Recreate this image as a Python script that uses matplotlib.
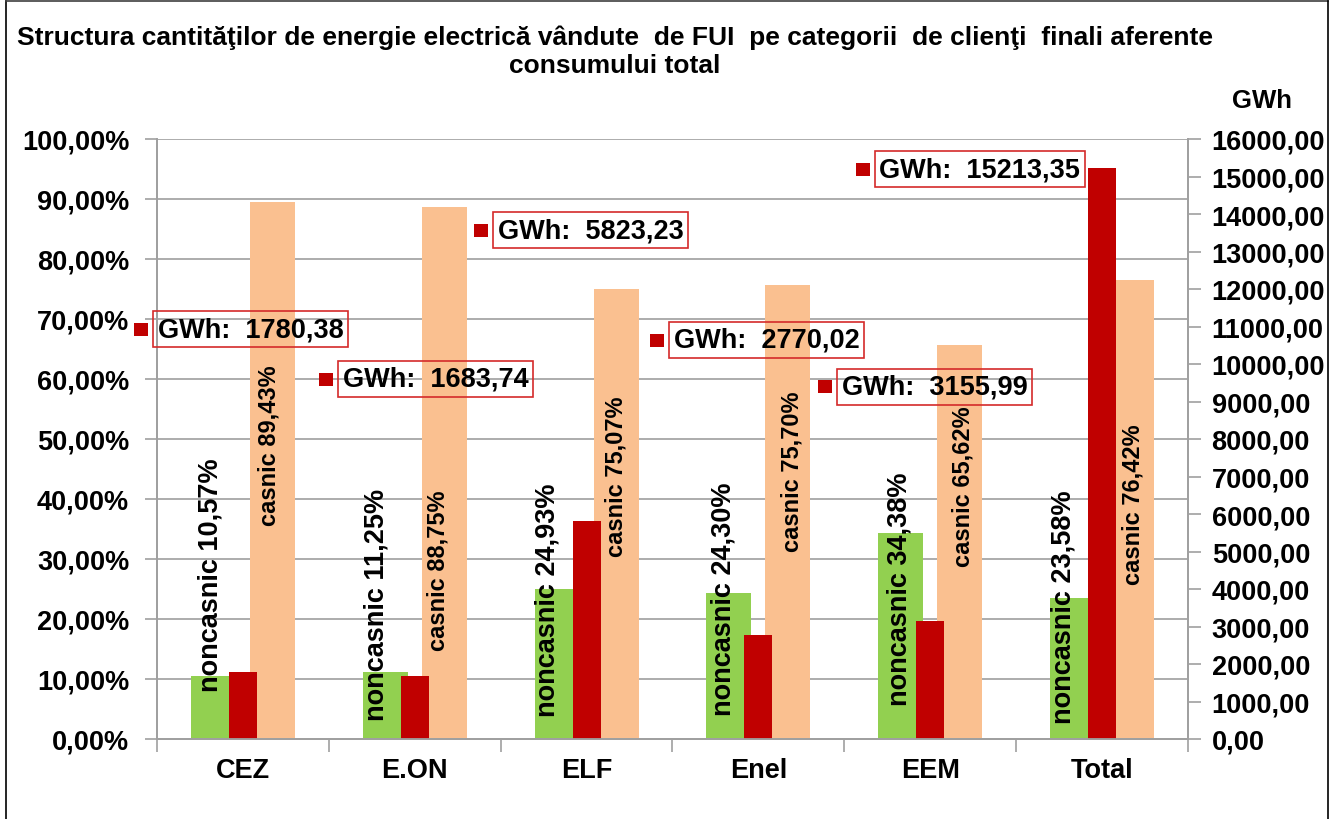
import matplotlib
matplotlib.use('Agg')
import matplotlib.pyplot as plt
import numpy as np
from matplotlib.patches import Rectangle
from matplotlib.lines import Line2D
from matplotlib.transforms import IdentityTransform
from matplotlib.ticker import FuncFormatter, MultipleLocator, FixedLocator

# ---- data ----
categories = ['CEZ', 'E.ON', 'ELF', 'Enel', 'EEM', 'Total']
noncasnic = [10.57, 11.25, 24.93, 24.30, 34.38, 23.58]
casnic = [89.43, 88.75, 75.07, 75.70, 65.62, 76.42]
gwh = [1780.38, 1683.74, 5823.23, 2770.02, 3155.99, 15213.35]

# ---- label layout (manually dragged positions in the original) ----
nc_label_pos = [(-0.19, 27.4), (0.78, 22.5), (1.77, 23.3), (2.795, 23.5), (3.82, 25.2), (4.774, 22.2)]
c_label_pos = [(0.152, 49.0), (1.136, 28.2), (2.172, 43.8), (3.196, 44.7), (4.191, 42.3), (5.181, 39.3)]
gwh_label_pos = [(-0.494, 10933), (0.583, 9600), (1.485, 13573), (2.509, 10640), (3.487, 9387), (3.703, 15200)]

plt.rcParams['font.family'] = ['Liberation Sans', 'DejaVu Sans']
plt.rcParams['font.weight'] = 'bold'

W, H = 1330, 820
fig = plt.figure(figsize=(W / 100, H / 100), dpi=100)
ax = fig.add_axes([157 / W, 80 / H, 1031 / W, 600 / H])
ax2 = ax.twinx()

GREEN, ORANGE, RED = '#92d050', '#fac090', '#c00000'
GRAY = '#a0a0a0'

x = np.arange(len(categories))
ax.bar(x - 0.172, noncasnic, width=0.262, color=GREEN, zorder=2)
ax.bar(x + 0.172, casnic, width=0.262, color=ORANGE, zorder=2)
ax2.bar(x, gwh, width=0.163, color=RED, zorder=2)

ax.set_xlim(-0.5, 5.5)
ax.set_ylim(0, 100)
ax2.set_ylim(0, 16000)

ax.set_axisbelow(True)
ax.yaxis.grid(True, color='#a6a6a6', lw=1.3)
ax.yaxis.set_major_locator(MultipleLocator(10))
ax2.yaxis.set_major_locator(MultipleLocator(1000))
ax.yaxis.set_major_formatter(FuncFormatter(lambda v, p: f"{v:.2f}%".replace('.', ',')))
ax2.yaxis.set_major_formatter(FuncFormatter(lambda v, p: f"{v:.2f}".replace('.', ',')))

for a in (ax, ax2):
    a.spines['top'].set_visible(False)
    for s in ('left', 'right', 'bottom'):
        a.spines[s].set_color(GRAY)
        a.spines[s].set_linewidth(1.3)

ax.tick_params(axis='y', direction='out', length=9, width=1.2, color=GRAY, pad=11, labelsize=19.5)
ax2.tick_params(axis='y', direction='out', length=9, width=1.2, color=GRAY, pad=8, labelsize=19.5)

ax.set_xticks(x)
ax.set_xticklabels(categories)
ax.xaxis.set_minor_locator(FixedLocator(np.arange(-0.5, 6.0, 1.0)))
ax.tick_params(axis='x', which='major', length=0, pad=13, labelsize=19.5)
ax.tick_params(axis='x', which='minor', direction='out', length=9, width=1.2, color=GRAY)

for (px, py), v in zip(nc_label_pos, noncasnic):
    ax.text(px, py, f"noncasnic {v:.2f}%".replace('.', ','), rotation=90, ha='center', va='center',
            fontsize=19.5, fontweight='bold', zorder=5)
for (px, py), v in zip(c_label_pos, casnic):
    ax.text(px, py, f"casnic {v:.2f}%".replace('.', ','), rotation=90, ha='center', va='center',
            fontsize=17, fontweight='bold', zorder=5)

boxes = []
for (px, py), v in zip(gwh_label_pos, gwh):
    t = ax2.text(px, py, f"GWh:  {v:.2f}".replace('.', ','), ha='left', va='center', fontsize=19.5,
                 fontweight='bold', clip_on=False, zorder=6,
                 bbox=dict(boxstyle='square,pad=0.17', fc='none', ec='#d42a2a', lw=1.2))
    boxes.append(t)

fig.text(615 / W, 1 - 38 / H,
         'Structura cantităţilor de energie electrică vândute  de FUI  pe categorii  de clienţi  finali aferente',
         ha='center', va='center', fontsize=19, fontweight='bold')
fig.text(615 / W, 1 - 66 / H, 'consumului total', ha='center', va='center', fontsize=19, fontweight='bold')
fig.text(1262 / W, 1 - 101 / H, 'GWh', ha='center', va='center', fontsize=18.5, fontweight='bold')

# outer frame
fig.add_artist(Line2D([6 / W, 6 / W], [0, 1 - 2 / H], color='black', lw=1.2))
fig.add_artist(Line2D([6 / W, 1328 / W], [1 - 2 / H, 1 - 2 / H], color='#404040', lw=1.2))
fig.add_artist(Line2D([1328 / W, 1328 / W], [0, 1 - 2 / H], color='black', lw=1.2))

# legend keys beside the GWh labels
fig.canvas.draw()
renderer = fig.canvas.get_renderer()
for t in boxes:
    bb = t.get_bbox_patch().get_window_extent(renderer)
    cy = (bb.y0 + bb.y1) / 2
    fig.add_artist(Rectangle((bb.x0 - 5 - 14, cy - 6.5), 14, 13, facecolor=RED, edgecolor='none',
                             transform=IdentityTransform()))

fig.savefig('out.png', dpi=100)
